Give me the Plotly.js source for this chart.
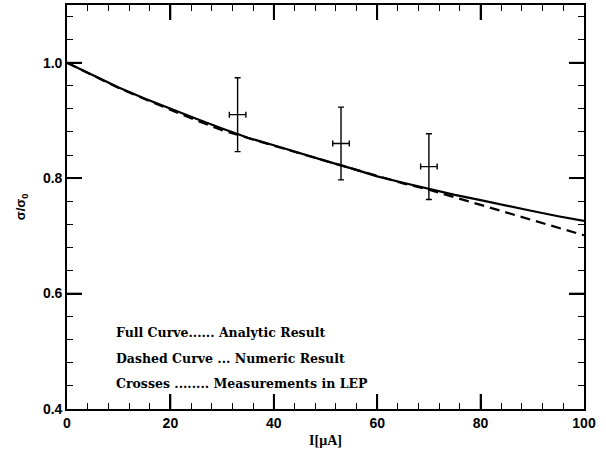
<!DOCTYPE html>
<html>
<head>
<meta charset="utf-8">
<script src="https://cdn.plot.ly/plotly-3.0.1.min.js"></script>
<style>html,body{margin:0;padding:0;background:#fff;}#plot{width:606px;height:453px;}</style>
</head>
<body>
<div id="plot"></div>
<script>
// Curves
const curveX = [0,5,10,15,20,25,30,35,40,45,50,55,60,65,70,75,80,85,90,95,100];
const analyticY = [1.000,0.978,0.957,0.938,0.920,0.903,0.886,0.870,0.857,0.843,0.830,0.817,0.803,0.792,0.781,0.771,0.762,0.752,0.743,0.734,0.726];
const numericY  = [1.000,0.978,0.956,0.937,0.918,0.900,0.883,0.869,0.856,0.843,0.830,0.817,0.803,0.791,0.780,0.767,0.754,0.741,0.728,0.714,0.701];
// Measurements
const measX = [33, 53, 70];
const measY = [0.910, 0.860, 0.820];
const measErrY = [0.064, 0.063, 0.057];
const measErrX = [1.6, 1.6, 1.6];
// Texts
const noteLines = ["Full Curve...... Analytic Result","Dashed Curve ... Numeric Result","Crosses ........ Measurements in LEP"];
const noteY = [0.532, 0.488, 0.445];
const noteX = 9.0;
// Axes
const xTicks = [0,20,40,60,80,100];
const yTicks = [0.4,0.6,0.8,1.0];
const yTickText = ["0.4","0.6","0.8","1.0"];
const xRange = [0,100];
const yRange = [0.4,1.1];

const traces = [
  {x: curveX, y: analyticY, mode:'lines', line:{color:'#000', width:2.2}, hoverinfo:'skip'},
  {x: curveX, y: numericY, mode:'lines', line:{color:'#000', width:2.2, dash:'10px,6px'}, hoverinfo:'skip'},
  {x: measX, y: measY, mode:'markers', marker:{size:1, color:'#000'}, hoverinfo:'skip',
   error_y:{type:'data', array: measErrY, visible:true, color:'#000', thickness:1.4, width:3},
   error_x:{type:'data', array: measErrX, visible:true, color:'#000', thickness:1.4, width:3}},
  // carrier for minor-tick overlay axes
  {x:[0], y:[0.4], xaxis:'x2', yaxis:'y2', mode:'markers', marker:{opacity:0}, hoverinfo:'skip'}
];

const tickFont = {family:'Liberation Sans, Arial, sans-serif', size:14, color:'#000'};
const annotations = noteLines.map((t,i)=>({
  x: noteX, y: noteY[i], xref:'x', yref:'y', text: '<b>'+t+'</b>', showarrow:false,
  xanchor:'left', yanchor:'middle', font:{family:'DejaVu Serif, serif', size:12.5, color:'#000'}
}));

// major ticks as pixel-length shapes anchored at tick values (all four sides)
const tickLine = {color:'#000', width:1.8};
const shapes = [];
xTicks.slice(1,-1).forEach(v=>{
  shapes.push({type:'line', xref:'x', yref:'y', x0:v, x1:v, ysizemode:'pixel', yanchor:yRange[0], y0:0, y1:15, line:tickLine});
  shapes.push({type:'line', xref:'x', yref:'y', x0:v, x1:v, ysizemode:'pixel', yanchor:yRange[1], y0:0, y1:-15, line:tickLine});
});
yTicks.slice(1).forEach(v=>{
  shapes.push({type:'line', xref:'x', yref:'y', y0:v, y1:v, xsizemode:'pixel', xanchor:xRange[0], x0:0, x1:15, line:tickLine});
  shapes.push({type:'line', xref:'x', yref:'y', y0:v, y1:v, xsizemode:'pixel', xanchor:xRange[1], x0:0, x1:-15, line:tickLine});
});

const layout = {
  width:606, height:453,
  margin:{l:67, r:22, t:5, b:44},
  paper_bgcolor:'#fff', plot_bgcolor:'#fff',
  showlegend:false, hovermode:false,
  xaxis:{range:xRange, tickmode:'array', tickvals:xTicks, ticktext:xTicks.map(v=>'<b>'+v+'</b>'), ticks:'inside', ticklen:15, tickwidth:1.8, tickcolor:'#000',
    showline:true, linecolor:'#000', linewidth:1.6, mirror:'allticks', showgrid:false, zeroline:false,
    tickfont:tickFont, title:{text:'<b>I[μA]</b>', font:{family:'Liberation Serif, serif', size:14, color:'#000'}, standoff:6}},
  yaxis:{range:yRange, tickmode:'array', tickvals:yTicks, ticktext:yTickText.map(v=>'<b>'+v+'</b>'), ticks:'inside', ticklen:15, tickwidth:1.8, tickcolor:'#000',
    showline:true, linecolor:'#000', linewidth:1.6, mirror:'allticks', showgrid:false, zeroline:false,
    tickfont:tickFont, title:{text:'<b>σ/σ<sub>0</sub></b>', font:{family:'Liberation Sans, sans-serif', size:13, color:'#000'}, standoff:14}},
  xaxis2:{overlaying:'x', anchor:'y2', range:xRange, tickmode:'linear', tick0:0, dtick:4, ticks:'inside', ticklen:6, tickwidth:1.3, tickcolor:'#000',
    showticklabels:false, showline:false, mirror:'allticks', showgrid:false, zeroline:false},
  yaxis2:{overlaying:'y', anchor:'x2', range:yRange, tickmode:'linear', tick0:0.4, dtick:0.04, ticks:'inside', ticklen:6, tickwidth:1.3, tickcolor:'#000',
    showticklabels:false, showline:false, mirror:'allticks', showgrid:false, zeroline:false},
  annotations: annotations,
  shapes: shapes
};

Plotly.newPlot('plot', traces, layout, {displayModeBar:false});
</script>
</body>
</html>
